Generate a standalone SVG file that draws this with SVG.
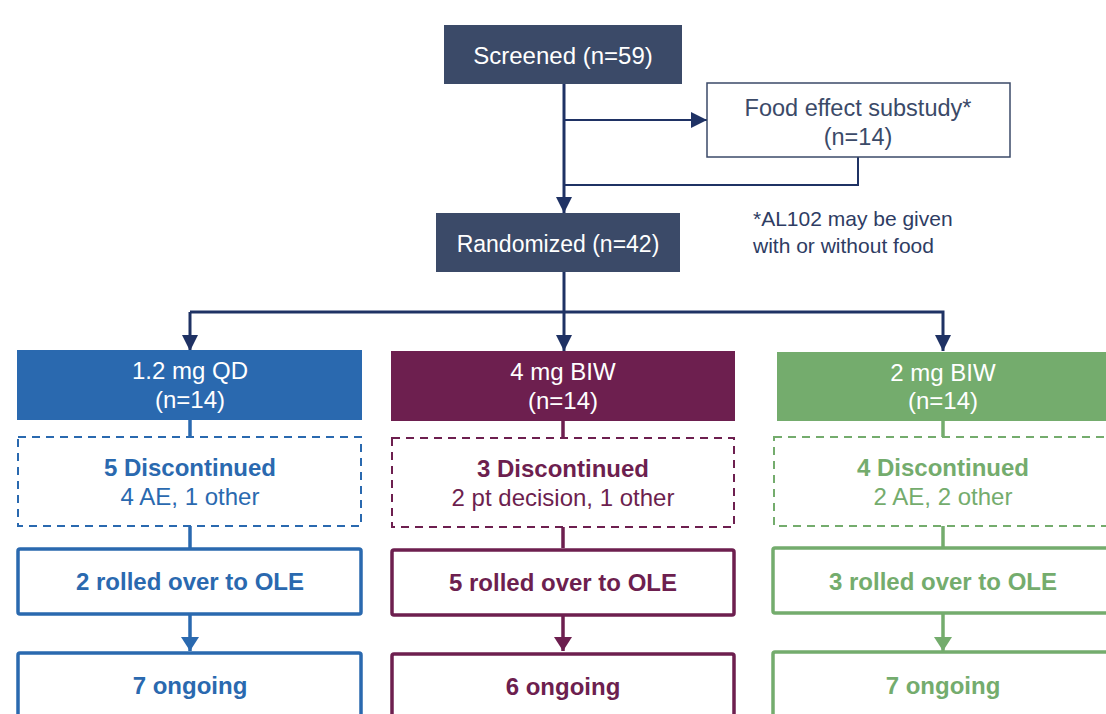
<svg xmlns="http://www.w3.org/2000/svg" width="1106" height="714" viewBox="0 0 1106 714">
<defs>
<style>
text{font-family:"Liberation Sans",Arial,sans-serif;text-anchor:middle}
.w{fill:#ffffff;font-size:24px}
.nv{fill:#3B4A68}
.hdr{font-size:23.5px}
.b{font-weight:bold;font-size:24px}
.r{font-size:24px}
.cn{fill:none;stroke:#1F3264;stroke-width:3}
.cn2{fill:none;stroke:#1F3264;stroke-width:2}
.blue{fill:#2A69AF}.purple{fill:#6D1F4F}.green{fill:#74AC6D}
.sblue{stroke:#2A69AF}.spurple{stroke:#6D1F4F}.sgreen{stroke:#74AC6D}
.dash{fill:#ffffff;stroke-width:2;stroke-dasharray:8 6}
.solid{fill:#ffffff;stroke-width:3.5}
.ln{fill:none;stroke-width:3.5}
</style>
<marker id="an" viewBox="0 0 16 16" markerUnits="userSpaceOnUse" markerWidth="16" markerHeight="16" refX="16" refY="8" orient="auto"><path d="M0,0 L16,8 L0,16 z" fill="#1F3264"/></marker>
<marker id="ab" viewBox="0 0 14 18" markerUnits="userSpaceOnUse" markerWidth="14" markerHeight="18" refX="14" refY="9" orient="auto"><path d="M0,0 L14,9 L0,18 z" fill="#2A69AF"/></marker>
<marker id="ap" viewBox="0 0 14 18" markerUnits="userSpaceOnUse" markerWidth="14" markerHeight="18" refX="14" refY="9" orient="auto"><path d="M0,0 L14,9 L0,18 z" fill="#6D1F4F"/></marker>
<marker id="ag" viewBox="0 0 14 18" markerUnits="userSpaceOnUse" markerWidth="14" markerHeight="18" refX="14" refY="9" orient="auto"><path d="M0,0 L14,9 L0,18 z" fill="#74AC6D"/></marker>
</defs>
<rect width="1106" height="714" fill="#ffffff"/>

<g id="connectors">
<line class="cn" x1="564" y1="84" x2="564" y2="213" marker-end="url(#an)"/>
<line class="cn2" x1="564" y1="120" x2="707" y2="120" marker-end="url(#an)"/>
<polyline class="cn2" points="858,157 858,185 564,185"/>
<line class="cn" x1="564" y1="272" x2="564" y2="312"/>
<polyline class="cn" points="190,312 943,312 943,351" marker-end="url(#an)"/>
<line class="cn" x1="190" y1="312" x2="190" y2="351" marker-end="url(#an)"/>
<line class="cn" x1="564" y1="312" x2="564" y2="351" marker-end="url(#an)"/>
<line class="ln sblue" x1="190" y1="420" x2="190" y2="437"/>
<line class="ln sblue" x1="190" y1="526" x2="190" y2="548"/>
<line class="ln sblue" x1="190" y1="614" x2="190" y2="651" marker-end="url(#ab)"/>
<line class="ln spurple" x1="563" y1="420" x2="563" y2="437"/>
<line class="ln spurple" x1="563" y1="526" x2="563" y2="548"/>
<line class="ln spurple" x1="563" y1="614" x2="563" y2="651" marker-end="url(#ap)"/>
<line class="ln sgreen" x1="943" y1="421" x2="943" y2="437"/>
<line class="ln sgreen" x1="943" y1="526" x2="943" y2="548"/>
<line class="ln sgreen" x1="943" y1="614" x2="943" y2="651" marker-end="url(#ag)"/>
</g>

<g id="screened">
<rect x="444" y="25" width="238" height="59" fill="#3B4A68"/>
<text class="w" x="563" y="64">Screened (n=59)</text>
</g>
<g id="food">
<rect x="707" y="83" width="303" height="74" fill="#ffffff" stroke="#3B4A68" stroke-width="1.5"/>
<text class="nv hdr" x="858" y="116">Food effect substudy*</text>
<text class="nv hdr" x="858" y="145">(n=14)</text>
</g>
<g id="footnote">
<text x="753" y="226" style="text-anchor:start;font-size:21px;fill:#2E3C63">*AL102 may be given</text>
<text x="753" y="253" style="text-anchor:start;font-size:21px;fill:#2E3C63">with or without food</text>
</g>
<g id="randomized">
<rect x="436" y="213" width="244" height="59" fill="#3B4A68"/>
<text class="w" x="558" y="252" style="font-size:23px">Randomized (n=42)</text>
</g>

<g id="arm1">
<rect x="17" y="350" width="345" height="70" class="blue"/>
<text class="w" x="190" y="379">1.2 mg QD</text>
<text class="w" x="190" y="408">(n=14)</text>
</g>
<g id="disc1">
<rect x="18" y="437" width="343" height="89" class="dash sblue"/>
<text class="b blue" x="190" y="476">5 Discontinued</text>
<text class="r blue" x="190" y="505">4 AE, 1 other</text>
</g>
<g id="ole1">
<rect x="18" y="549" width="343" height="65" rx="2" class="solid sblue"/>
<text class="b blue" x="190" y="590">2 rolled over to OLE</text>
</g>
<g id="ongoing1">
<rect x="18" y="653" width="343" height="80" rx="2" class="solid sblue"/>
<text class="b blue" x="190" y="694">7 ongoing</text>
</g>

<g id="arm2">
<rect x="391" y="351" width="344" height="70" class="purple"/>
<text class="w" x="563" y="380">4 mg BIW</text>
<text class="w" x="563" y="409">(n=14)</text>
</g>
<g id="disc2">
<rect x="392" y="438" width="342" height="89" class="dash spurple"/>
<text class="b purple" x="563" y="477">3 Discontinued</text>
<text class="r purple" x="563" y="506">2 pt decision, 1 other</text>
</g>
<g id="ole2">
<rect x="392" y="550" width="342" height="65" rx="2" class="solid spurple"/>
<text class="b purple" x="563" y="591">5 rolled over to OLE</text>
</g>
<g id="ongoing2">
<rect x="392" y="654" width="342" height="80" rx="2" class="solid spurple"/>
<text class="b purple" x="563" y="695">6 ongoing</text>
</g>

<g id="arm3">
<rect x="777" y="352" width="340" height="69" class="green"/>
<text class="w" x="943" y="381">2 mg BIW</text>
<text class="w" x="943" y="409">(n=14)</text>
</g>
<g id="disc3">
<rect x="774" y="437" width="340" height="89" class="dash sgreen"/>
<text class="b green" x="943" y="476">4 Discontinued</text>
<text class="r green" x="943" y="505">2 AE, 2 other</text>
</g>
<g id="ole3">
<rect x="773" y="548" width="345" height="65" rx="2" class="solid sgreen"/>
<text class="b green" x="943" y="590">3 rolled over to OLE</text>
</g>
<g id="ongoing3">
<rect x="773" y="652" width="345" height="80" rx="2" class="solid sgreen"/>
<text class="b green" x="943" y="694">7 ongoing</text>
</g>
</svg>
